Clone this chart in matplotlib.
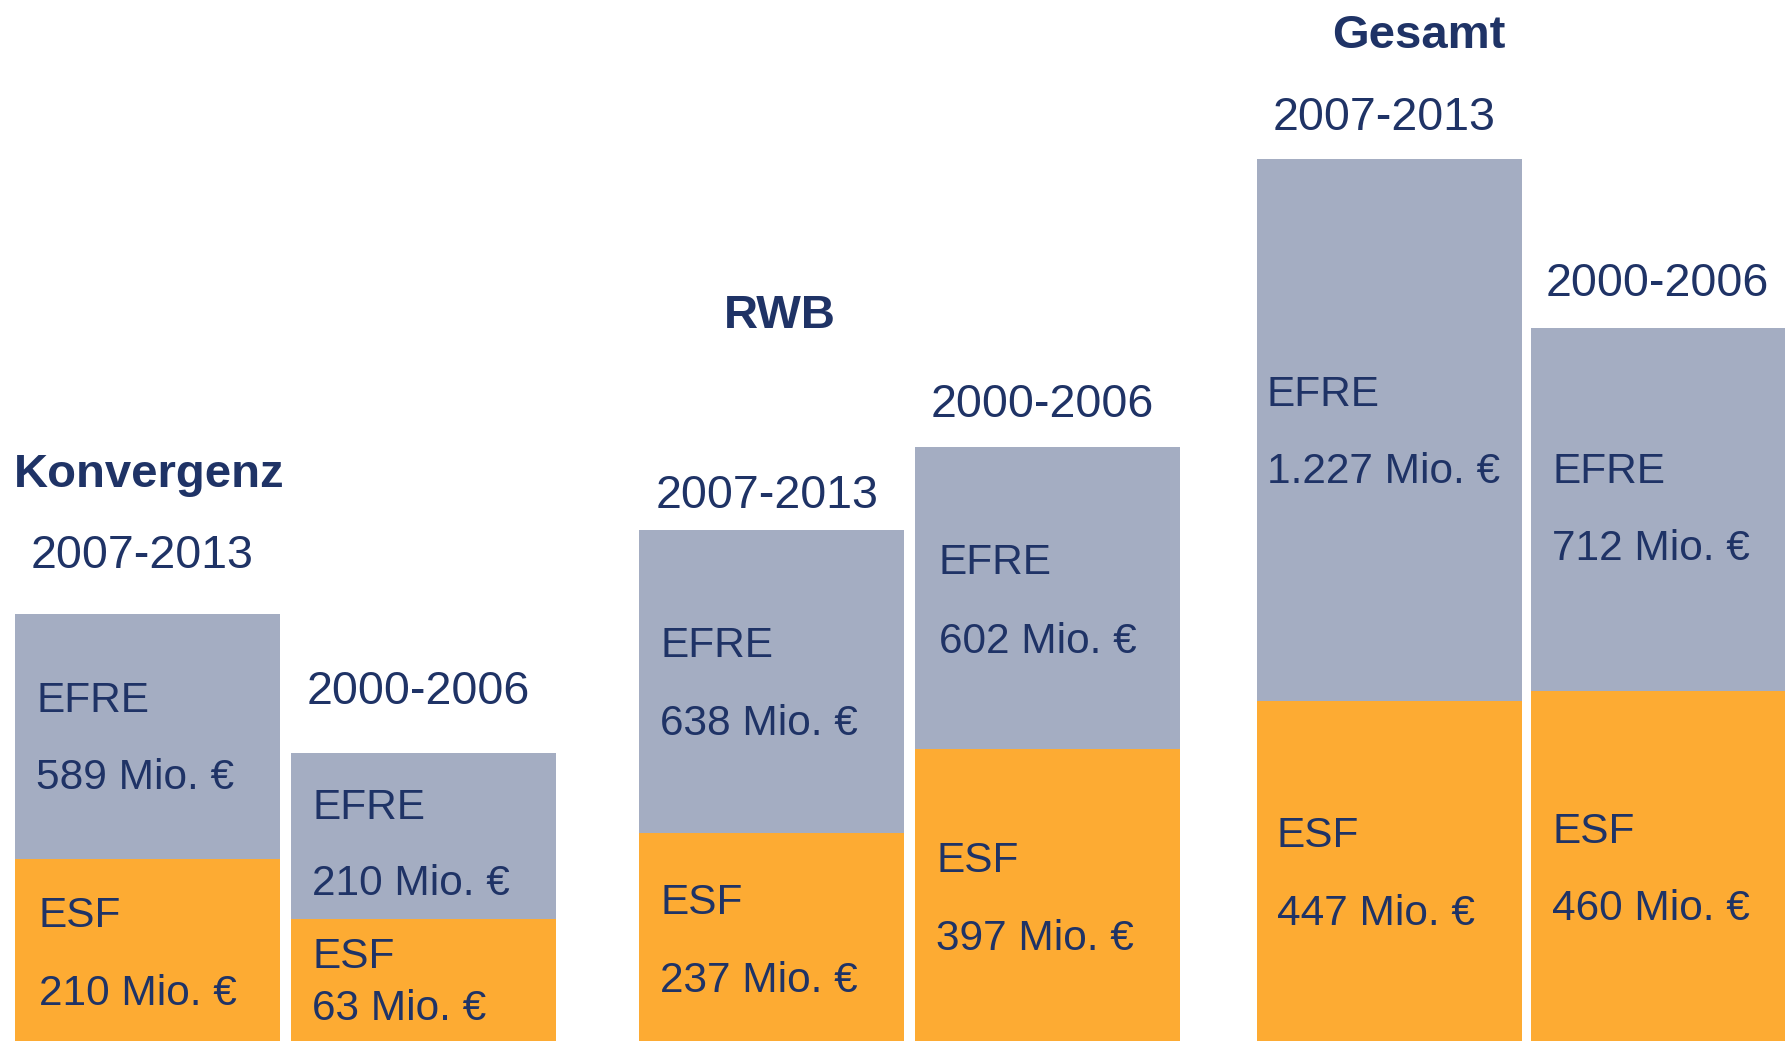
import matplotlib
matplotlib.use('Agg')
import matplotlib.pyplot as plt

# Strukturfonds: Mio. Euro je Foerderperiode
groups = ['Konvergenz', 'RWB', 'Gesamt']
periods = ['2007-2013', '2000-2006']
efre_mio = [589, 210, 638, 602, 1227, 712]
esf_mio = [210, 63, 237, 397, 447, 460]
# bar heights as drawn in the picture (not to scale with the values)
efre_h = [245, 166, 303, 302, 542, 363]
esf_h = [182, 122, 208, 292, 340, 350]

navy = '#1F3366'
grey = '#A4ADC2'
orange = '#FDAB33'
plt.rcParams['font.family'] = ['Liberation Sans', 'DejaVu Sans']

W, H = 1785, 1041
fig = plt.figure(figsize=(W / 100, H / 100), dpi=100)
ax = fig.add_axes([0, 0, 1, 1])
ax.set_xlim(0, W)
ax.set_ylim(0, H)
ax.axis('off')

lefts = [15, 291, 639, 915, 1257, 1531]
width = 265
ax.bar(lefts, esf_h, width=width, align='edge', color=orange, linewidth=0)
ax.bar(lefts, efre_h, bottom=esf_h, width=width, align='edge', color=grey, linewidth=0)

def fmt(v):
    return f'{v:,}'.replace(',', '.') + ' Mio. €'

def txt(x, y, s, **kw):
    # y given from top of the picture, small nudge down
    ax.text(x, H - y - 4, s, color=navy, ha='left', va='center', **kw)

# group headings
for g, (x, y) in zip(groups, [(14, 471), (724, 312), (1332, 32)]):
    txt(x, y, g, fontsize=34, fontweight='bold')

# period headings
per_pos = [(31, 552), (307, 688), (656, 492), (931, 401), (1273, 114), (1546, 280)]
for i, (x, y) in enumerate(per_pos):
    txt(x, y, periods[i % 2], fontsize=33.5)

# segment labels: (x, y EFRE, y value) and (x, y ESF, y value)
efre_pos = [(36, 697, 774), (312, 804, 880), (660, 642, 720),
            (939, 559, 638), (1267, 391, 468), (1552, 468, 545)]
esf_pos = [(39, 912, 990), (312, 953, 1005), (660, 899, 977),
           (936, 857, 935), (1277, 832, 910), (1552, 828, 905)]
for i in range(6):
    x, y1, y2 = efre_pos[i]
    txt(x, y1, 'EFRE', fontsize=30.5)
    txt(x, y2, fmt(efre_mio[i]), fontsize=30.5)
    x, y1, y2 = esf_pos[i]
    txt(x, y1, 'ESF', fontsize=30.5)
    txt(x, y2, fmt(esf_mio[i]), fontsize=30.5)

fig.savefig('out.png', dpi=100)
